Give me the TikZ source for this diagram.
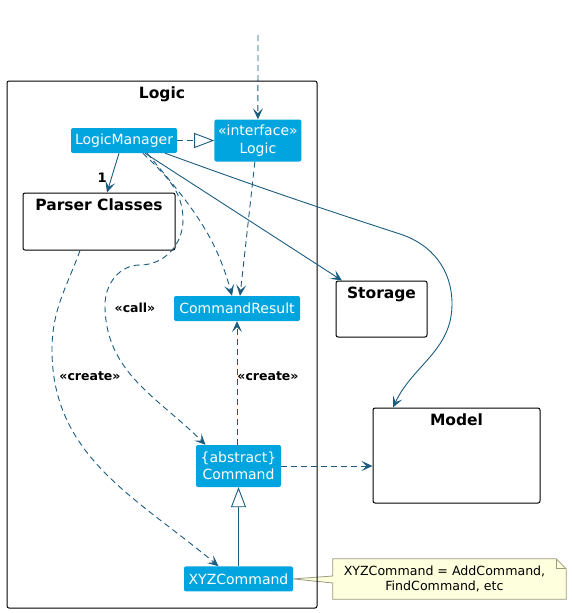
\documentclass[tikz,border=0pt]{standalone}
\usepackage{fontspec}
\setmainfont{DejaVu Sans}
\usepackage{xcolor}
\usetikzlibrary{arrows.meta,positioning,backgrounds}
\definecolor{ClassFill}{HTML}{00A5DF}
\definecolor{EdgeBlue}{HTML}{1A5C80}
\definecolor{NoteFill}{HTML}{FEFFDD}
\definecolor{NoteEdge}{HTML}{9A9A7E}

\begin{document}
\begin{tikzpicture}[x=1pt,y=1pt,
    classbox/.style={fill=ClassFill, text=white, rounded corners=2pt,
        align=center, inner sep=2pt, font=\fontsize{14}{17.5}\selectfont},
    pkgbox/.style={draw=black, line width=1pt, rounded corners=2pt},
    pkgtitle/.style={font=\fontsize{15.5}{18}\selectfont\bfseries, yshift=-3pt},
    stereo/.style={font=\fontsize{12.5}{14}\selectfont\bfseries},
    assoc/.style={draw=EdgeBlue, line width=0.9pt,
        -{Stealth[length=11pt,width=10pt,inset=5pt]}},
    dep/.style={assoc, dash pattern=on 6pt off 4pt},
    realize/.style={draw=EdgeBlue, line width=0.9pt, dash pattern=on 6pt off 4pt,
        -{Triangle[open,length=20pt,width=15pt,fill=white]}},
    extends/.style={draw=EdgeBlue, line width=0.9pt,
        -{Triangle[open,length=20pt,width=15pt,fill=white]}},
    notebox/.style={align=center, minimum width=223pt, minimum height=40pt,
        font=\fontsize{12.6}{15}\selectfont}
]
    \useasboundingbox (0,0) rectangle (571,-613);

    % packages
    \node[pkgbox, minimum width=310pt, minimum height=527pt,
        label={[pkgtitle, anchor=north]north:Logic}] (logicpkg) at (162,-344.5) {};
    \node[pkgbox, minimum width=152pt, minimum height=57pt,
        label={[pkgtitle, anchor=north]north:Parser Classes}] (parser) at (99,-221.5) {};
    \node[pkgbox, minimum width=91pt, minimum height=56pt,
        label={[pkgtitle, anchor=north]north:Storage}] (storage) at (381.5,-309) {};
    \node[pkgbox, minimum width=167pt, minimum height=95pt,
        label={[pkgtitle, anchor=north]north:Model}] (model) at (456.5,-455.5) {};

    % classes
    \node[classbox, minimum width=106pt, minimum height=25pt] (lm) at (124,-140.5) {LogicManager};
    \node[classbox, minimum width=87pt, minimum height=42pt, right=37pt of lm] (logic) {«interface»\\Logic};
    \node[classbox, minimum width=85pt, minimum height=42pt] (cmd) at (238.5,-466) {\{abstract\}\\Command};
    \node[classbox, minimum width=126pt, minimum height=25pt] (cres) at (237,-308.5) {CommandResult};
    \node[classbox, minimum width=109pt, minimum height=25pt, below=79pt of cmd] (xyz) {XYZCommand};

    \coordinate (entry) at (258,-35);

    % connectors
    \draw[dep] (entry) -- (logic.north);
    \draw[realize] (lm) -- (logic);
    \draw[assoc] ([xshift=-5pt]lm.south) -- node[pos=0.62, left=1pt,
        font=\fontsize{13}{15}\selectfont\bfseries] {1} ([xshift=8pt]parser.north);
    \draw[assoc] ([xshift=21pt]lm.south) -- ([xshift=-39.5pt]storage.north);
    \draw[assoc] ([xshift=41pt]lm.south) to[out=-20,in=162] (400,-234)
        to[out=-18,in=90] (452,-304) to[out=-90,in=65] ([xshift=-63.5pt]model.north);
    \draw[dep] ([xshift=23pt]lm.south) to[out=-50,in=105] ([xshift=-5pt]cres.north);
    \draw[dep] ([xshift=-3pt]logic.south) -- ([xshift=3pt]cres.north);
    \draw[dep] ([xshift=19pt]lm.south) to[out=-45,in=90] (183,-220)
        to[out=-90,in=0] (140,-265) to[out=180,in=90] (105,-305)
        to[out=-90,in=135] ([xshift=-33pt]cmd.north);
    \draw[dep] ([xshift=-19pt]parser.south) to[out=-110,in=90] (52,-350)
        to[out=-90,in=140] ([xshift=-20pt]xyz.north);
    \draw[dep] (cmd.north -| cres.south) -- (cres.south);
    \draw[dep] (cmd.east) -- (cmd.east -| model.west);
    \draw[extends] (xyz.north) -- (cmd.south);

    \node[stereo] (calllbl) at (135,-308) {«call»};
    \node[stereo] (createlbl) at (90,-376) {«create»};
    \node[stereo] (resultlbl) at (268,-376) {«create»};

    % note
    \node[notebox] (note) at (444.5,-579) {XYZCommand = AddCommand,\\FindCommand, etc};
    \begin{pgfonlayer}{background}
        \draw[NoteEdge, fill=NoteFill, line width=0.8pt] ([yshift=3pt]note.west) -- (note.north west)
            -- (note.north east) -- ([xshift=10pt,yshift=-10pt]note.north east)
            -- ([xshift=10pt]note.south east) -- (note.south west) -- ([yshift=-4pt]note.west)
            -- (xyz.east) -- cycle;
        \draw[NoteEdge, line width=0.8pt] (note.north east) |- ([xshift=10pt,yshift=-10pt]note.north east);
    \end{pgfonlayer}
\end{tikzpicture}
\end{document}
